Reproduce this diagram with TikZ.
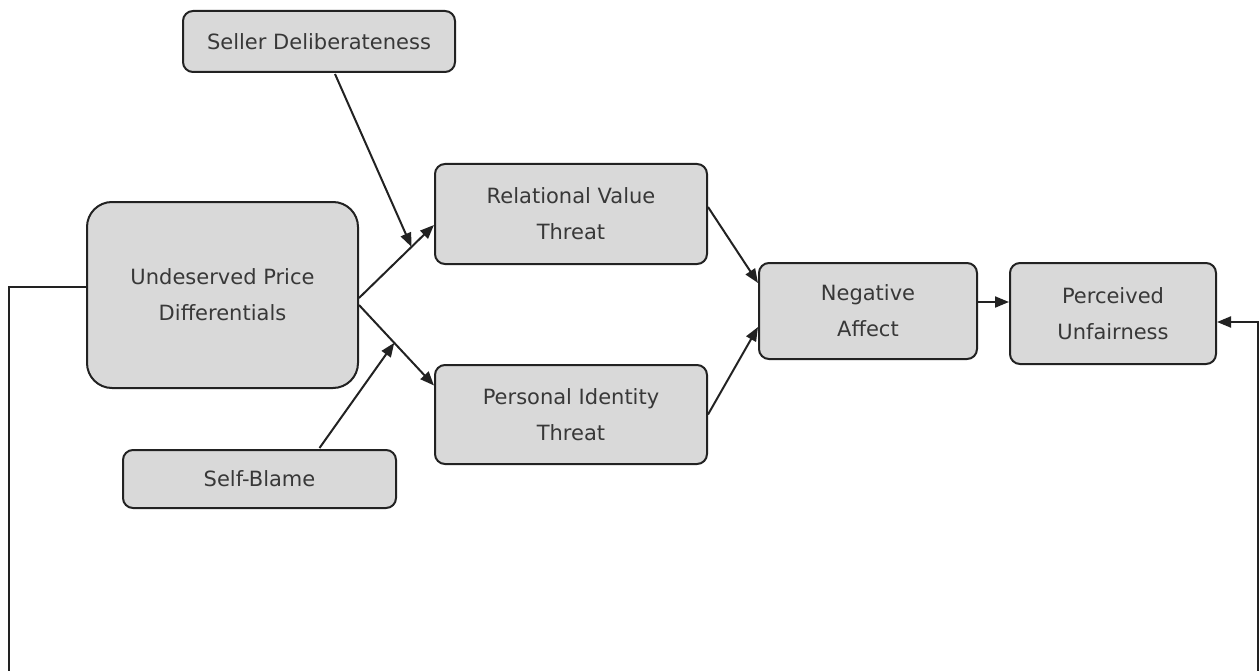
\documentclass[tikz,border=0pt]{standalone}
\usepackage{fontspec}
\setmainfont{DejaVu Sans}
\usetikzlibrary{arrows.meta,calc}
\definecolor{boxgray}{HTML}{D9D9D9}
\definecolor{inkc}{HTML}{222222}
\begin{document}
\begin{tikzpicture}[x=1pt,y=-1pt,
  box/.style={draw=inkc, line width=2pt, fill=boxgray, rounded corners=10pt,
    align=center, text=inkc!90, font=\fontsize{21}{36}\selectfont, inner sep=0pt},
  conn/.style={line width=2pt, draw=inkc, -{Triangle[length=14pt,width=11pt]}}]
\useasboundingbox (0,0) rectangle (1260,671);
\clip (0,0) rectangle (1260,671);
\node[box, minimum width=272pt, minimum height=61pt] (sd) at (319,41.5) {Seller Deliberateness};
\node[box, minimum width=271pt, minimum height=186pt, rounded corners=25pt] (upd) at (222.5,295) {Undeserved Price\\Differentials};
\node[box, minimum width=272pt, minimum height=100pt] (rvt) at (571,214) {Relational Value\\Threat};
\node[box, minimum width=272pt, minimum height=99pt] (pit) at (571,414.5) {Personal Identity\\Threat};
\node[box, minimum width=218pt, minimum height=96pt] (na) at (868,311) {Negative\\Affect};
\node[box, minimum width=206pt, minimum height=101pt] (pu) at (1113,313.5) {Perceived\\Unfairness};
\node[box, minimum width=273pt, minimum height=58pt] (sb) at (259.5,479) {Self-Blame};
% main paths
\coordinate (u1) at ($(upd.east)+(0,3)$);
\coordinate (r1) at ($(rvt.west)+(0,11)$);
\coordinate (u2) at ($(upd.east)+(0,10)$);
\coordinate (p1) at ($(pit.west)+(0,-29)$);
\coordinate (m1) at ($(u1)!0.70!(r1)$);
\coordinate (m2) at ($(u2)!0.47!(p1)$);
\draw[conn] (u1) -- (r1);
\draw[conn] (u2) -- (p1);
\draw[conn] ($(sd.south)+(16,1)$) -- (m1);
\draw[conn] ($(sb.north)+(60,-1)$) -- (m2);
\draw[conn] ($(rvt.east)+(0,-7)$) -- ($(na.west)+(0,-28)$);
\draw[conn] (pit.east) -- ($(na.west)+(0,16)$);
\coordinate (n1) at ($(na.east)+(0,-9)$);
\draw[conn] (n1) -- (n1 -| pu.west);
% feedback loop
\coordinate (f0) at ($(upd.west)+(0,-8)$);
\coordinate (f1) at (9,287);
\coordinate (f2) at (9,700);
\coordinate (f3) at (1258,700);
\coordinate (f4) at (1258,322);
\draw[conn] (f0) -- (f1) -- (f2) -- (f3) -- (f4) -- (f4 -| pu.east);
\end{tikzpicture}
\end{document}
